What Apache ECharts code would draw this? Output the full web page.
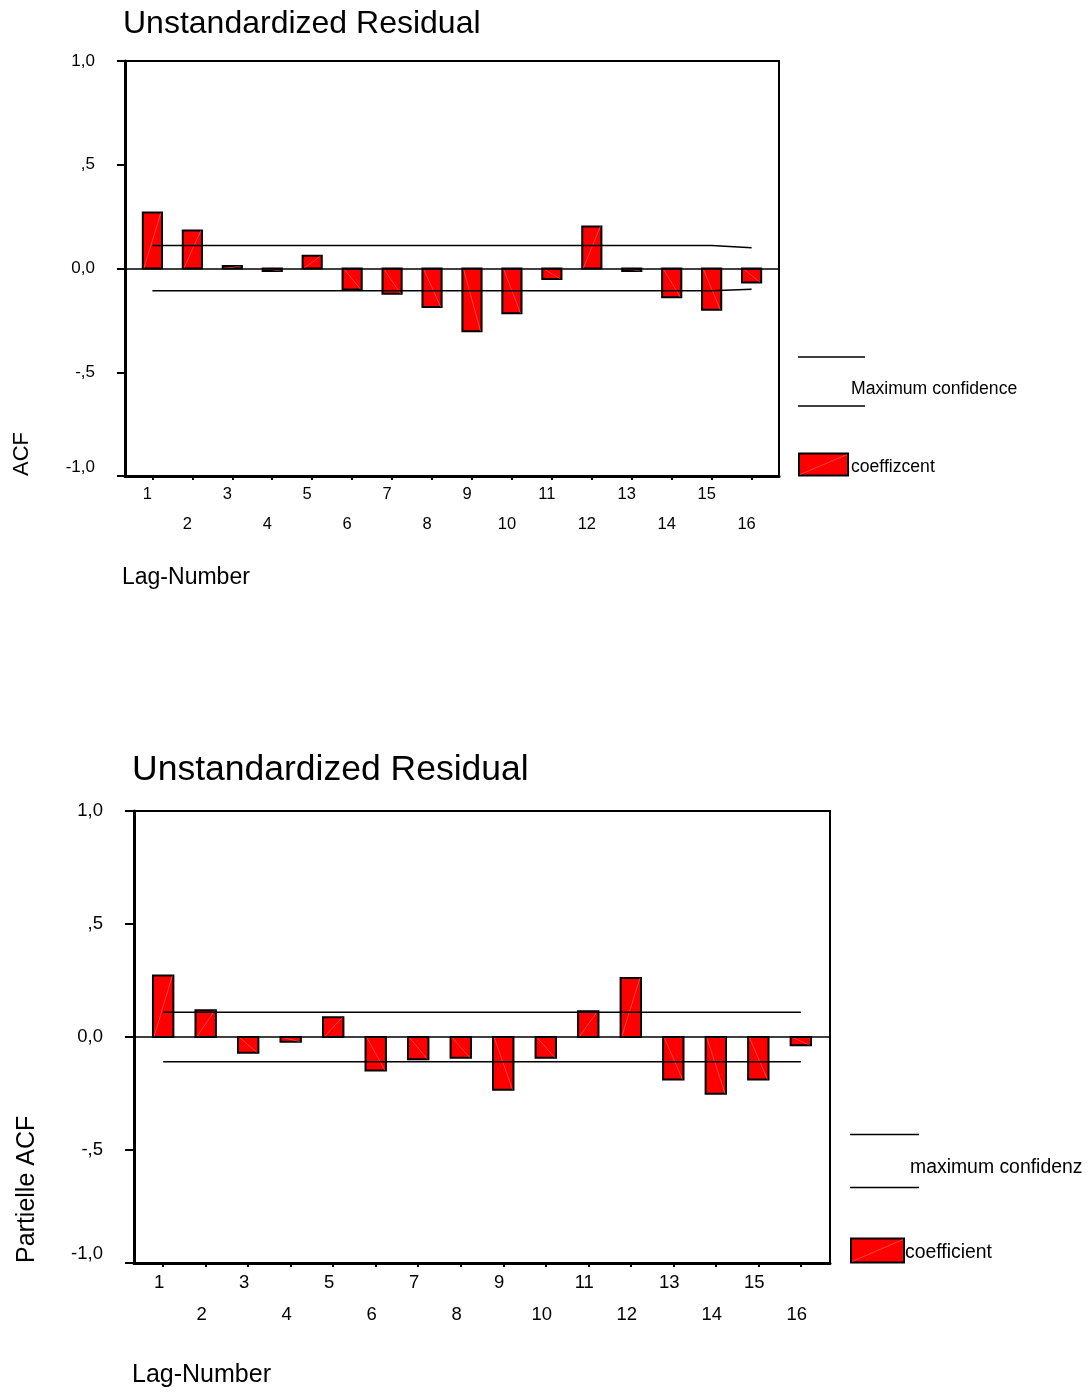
<!DOCTYPE html>
<html><head><meta charset="utf-8">
<script src="https://cdn.jsdelivr.net/npm/echarts@6/dist/echarts.min.js"></script>
<style>html,body{margin:0;padding:0;background:#fff}#c{width:1089px;height:1394px}</style>
</head><body><div id="c"></div>
<script>
// ---- data ----
const lags = [1,2,3,4,5,6,7,8,9,10,11,12,13,14,15,16];
const acfCoef  = [0.270, 0.183, 0.012, -0.012, 0.061, -0.101, -0.122, -0.185, -0.303, -0.216, -0.050, 0.203, -0.012, -0.138, -0.199, -0.067];
const acfUpper = [0.111,0.111,0.111,0.111,0.111,0.111,0.111,0.111,0.111,0.111,0.111,0.111,0.111,0.111,0.111,0.100];
const acfLower = [-0.107,-0.107,-0.107,-0.107,-0.107,-0.107,-0.107,-0.107,-0.107,-0.107,-0.107,-0.107,-0.107,-0.107,-0.107,-0.100];
const pacfCoef  = [0.272, 0.118, -0.070, -0.021, 0.087, -0.148, -0.099, -0.092, -0.233, -0.092, 0.114, 0.261, -0.188, -0.251, -0.188, -0.037];
const pacfUpper = [0.110,0.110,0.110,0.110,0.110,0.110,0.110,0.110,0.110,0.110,0.110,0.110,0.110,0.110,0.110,0.110];
const pacfLower = [-0.110,-0.110,-0.110,-0.110,-0.110,-0.110,-0.110,-0.110,-0.110,-0.110,-0.110,-0.110,-0.110,-0.110,-0.110,-0.110];
const yTickValues = [-1, -0.5, 0, 0.5, 1];
const yTickLabels = ['-1,0', '-,5', '0,0', ',5', '1,0'];
const titles = ['Unstandardized Residual', 'Unstandardized Residual'];
const yNames = ['ACF', 'Partielle ACF'];
const xName = 'Lag-Number';
const legendLineNames = ['Maximum confidence', 'maximum confidenz'];
const legendBarNames = ['coeffizcent', 'coefficient'];

const FONT = '"Liberation Sans", Arial, sans-serif';
const RED = '#ff0000';

function yFmt(v) {
  const i = yTickValues.findIndex(t => Math.abs(t - v) < 1e-9);
  return i >= 0 ? yTickLabels[i] : '';
}
function xFmt(v) {
  const n = Math.round(v);
  return n % 2 === 0 ? '\n' + n : String(n);
}
function barRender(params, api) {
  const x = api.value(0), y = api.value(1);
  const p0 = api.coord([x, 0]);
  const p1 = api.coord([x, y]);
  const w = api.size([1, 0])[0] * 0.48;
  const left = p0[0] - w / 2, right = p0[0] + w / 2;
  const top = Math.min(p0[1], p1[1]);
  const h = Math.abs(p1[1] - p0[1]);
  return {
    type: 'group',
    children: [
      { type: 'rect', shape: { x: left, y: top, width: w, height: h },
        style: { fill: RED, stroke: '#000', lineWidth: 2 } },
      { type: 'line', shape: { x1: left + 1, y1: p0[1], x2: right - 1, y2: p1[1] },
        style: { stroke: 'rgba(255,170,170,0.8)', lineWidth: 0.5 } }
    ]
  };
}

const cfg = [
  { grid: { left: 125, top: 61, width: 654, height: 415 }, xFont: 16.5, yFont: 17, lh: 30, xMargin: 3, xPad: 10, yMargin: 30, tickLen: 8,
    coef: acfCoef, up: acfUpper, lo: acfLower },
  { grid: { left: 134, top: 811, width: 696, height: 452 }, xFont: 18.5, yFont: 18.5, lh: 32, xMargin: 4, xPad: 8, yMargin: 31, tickLen: 9,
    coef: pacfCoef, up: pacfUpper, lo: pacfLower }
];

const xAxes = [], yAxes = [], series = [], grids = [];
cfg.forEach((c, i) => {
  grids.push(Object.assign({ show: true, borderColor: '#000', borderWidth: 2, backgroundColor: 'transparent' }, c.grid));
  xAxes.push({
    gridIndex: i, type: 'value', min: 0.314, max: 16.686,
    axisLine: { show: true, onZero: false, lineStyle: { color: '#000', width: 3 } },
    axisTick: { show: true, customValues: lags, length: 4, lineStyle: { color: '#000', width: 2 } },
    axisLabel: { show: true, customValues: lags, formatter: xFmt, color: '#000', fontFamily: FONT,
      fontSize: c.xFont, lineHeight: c.lh, margin: c.xMargin, padding: [0, c.xPad, 0, 0] },
    splitLine: { show: false }
  });
  yAxes.push({
    gridIndex: i, type: 'value', min: -1, max: 1, interval: 0.5,
    axisLine: { show: true, onZero: false, lineStyle: { color: '#000', width: 3 } },
    axisTick: { show: true, inside: false, length: c.tickLen, lineStyle: { color: '#000', width: 2 } },
    axisLabel: { formatter: yFmt, color: '#000', fontFamily: FONT, fontSize: c.yFont, margin: c.yMargin,
      verticalAlignMinLabel: 'bottom' },
    splitLine: { show: false }
  });
  series.push({
    type: 'custom', xAxisIndex: i, yAxisIndex: i, renderItem: barRender, z: 2,
    data: lags.map((l, k) => [l, c.coef[k]]),
    encode: { x: 0, y: 1 },
    markLine: { silent: true, symbol: ['none', 'none'], label: { show: false }, animation: false,
      lineStyle: { color: '#000', width: 1.5, type: 'solid' }, data: [{ yAxis: 0 }] }
  });
  series.push({
    type: 'line', xAxisIndex: i, yAxisIndex: i, z: 3, showSymbol: false, symbol: 'none',
    lineStyle: { color: '#000', width: 1.5 }, data: lags.map((l, k) => [l, c.up[k]])
  });
  series.push({
    type: 'line', xAxisIndex: i, yAxisIndex: i, z: 3, showSymbol: false, symbol: 'none',
    lineStyle: { color: '#000', width: 1.5 }, data: lags.map((l, k) => [l, c.lo[k]])
  });
});

function txt(text, x, y, size, extra) {
  return Object.assign({ type: 'text', x: x, y: y, silent: true,
    style: { text: text, fill: '#000', font: size + 'px ' + FONT, align: 'left', verticalAlign: 'middle' } }, extra || {});
}
function hline(x1, x2, y, w) {
  return { type: 'line', silent: true, shape: { x1: x1, y1: y, x2: x2, y2: y }, style: { stroke: '#000', lineWidth: w || 1.5 } };
}
function legendBox(x, y, w, h) {
  return [
    { type: 'rect', silent: true, shape: { x: x, y: y, width: w, height: h }, style: { fill: RED, stroke: '#000', lineWidth: 2 } },
    { type: 'line', silent: true, shape: { x1: x + 1, y1: y + h - 1, x2: x + w - 1, y2: y + 1 }, style: { stroke: 'rgba(255,170,170,0.8)', lineWidth: 0.5 } }
  ];
}

const graphics = [
  // axis names
  txt(yNames[0], 22, 476, 22, { rotation: Math.PI / 2 }),
  txt(yNames[1], 27, 1263, 25, { rotation: Math.PI / 2 }),
  txt(xName, 122, 578, 23),
  txt(xName, 132, 1375, 25),
  // legend top
  hline(798, 865, 357),
  hline(798, 865, 406),
  txt(legendLineNames[0], 851, 389, 17.6),
  ...legendBox(799, 453.5, 49, 22),
  txt(legendBarNames[0], 851, 467, 17.6),
  // legend bottom
  hline(850, 919, 1134.5),
  hline(850, 919, 1187.5),
  txt(legendLineNames[1], 910, 1168, 19.4),
  ...legendBox(851, 1238.5, 53, 24),
  txt(legendBarNames[1], 905, 1252.5, 19.4)
];

const chart = echarts.init(document.getElementById('c'), null, { renderer: 'canvas' });
chart.setOption({
  animation: false,
  backgroundColor: '#fff',
  title: [
    { text: titles[0], left: 118, top: 3, textStyle: { fontFamily: FONT, fontSize: 32, fontWeight: 'normal', color: '#000' } },
    { text: titles[1], left: 127, top: 747, textStyle: { fontFamily: FONT, fontSize: 35.5, fontWeight: 'normal', color: '#000' } }
  ],
  grid: grids,
  xAxis: xAxes,
  yAxis: yAxes,
  series: series,
  graphic: graphics
});
</script>
</body></html>
